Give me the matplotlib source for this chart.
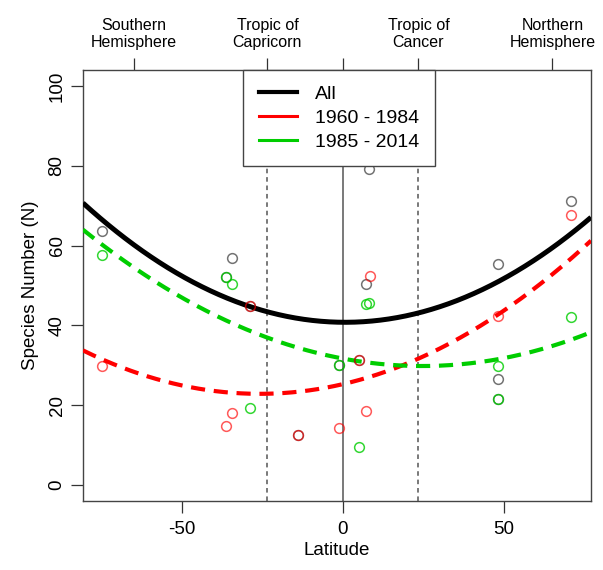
import numpy as np
import matplotlib
matplotlib.use('Agg')
import matplotlib.pyplot as plt
from matplotlib.lines import Line2D

plt.rcParams['font.family'] = ['Liberation Sans', 'DejaVu Sans']
plt.rcParams['axes.unicode_minus'] = False

# pontos (latitude, numero de especies)
lat_all = [-74.8, -34.4, -36.3, -28.9, -13.9, -1.1, 5.0, 7.1, 8.2, 48.2, 48.2, 48.2, 70.8]
n_all = [63.8, 57.0, 52.1, 44.9, 12.5, 30.0, 31.3, 50.3, 79.1, 55.3, 26.7, 21.6, 71.2]

lat_1960 = [-74.8, -28.9, -34.4, -36.3, -13.9, -1.1, 5.0, 7.1, 8.4, 48.2, 70.8]
n_1960 = [29.8, 44.9, 18.1, 14.8, 12.5, 14.3, 31.3, 18.5, 52.4, 42.4, 67.6]

lat_1985 = [-74.8, -36.3, -34.4, -28.9, -1.1, 4.9, 7.1, 8.2, 48.2, 48.2, 70.8]
n_1985 = [57.6, 52.1, 50.5, 19.3, 30.0, 9.5, 45.4, 45.7, 29.8, 21.6, 42.2]

# ajustes quadraticos (c, b, a) para np.polyval
fit_all = [0.004515, -0.0061, 40.8]
fit_1960 = [0.003625, 0.1878, 25.3]
fit_1985 = [0.003082, -0.1516, 31.7]

tropicos = [-23.44, 23.44]
top_ticks = [-65, -23.44, 0, 23.44, 65]
top_labels = ['Southern\nHemisphere', 'Tropic of\nCapricorn', '', 'Tropic of\nCancer', 'Northern\nHemisphere']

legend_labels = ['All', '1960 - 1984', '1985 - 2014']

xlim = (-80.7, 77.0)
ylim = (-4, 104)

fig = plt.figure(figsize=(6.03, 5.70), dpi=100)
ax = fig.add_axes([0.1376, 0.121, 0.8425, 0.756])

# linhas de referencia
ax.axvline(0, color='#555555', lw=1.1, zorder=1)
for t in tropicos:
    ax.axvline(t, color='#555555', lw=1.1, ls=(0, (3, 2.5)), zorder=1)

# curvas ajustadas
xs = np.linspace(xlim[0], xlim[1], 300)
ax.plot(xs, np.polyval(fit_all, xs), color='black', lw=3.6, solid_capstyle='butt', zorder=3)
ax.plot(xs, np.polyval(fit_1960, xs), color='#ff0000', lw=3.0, dashes=(3.4, 2.1),
        dash_capstyle='butt', zorder=3)
ax.plot(xs, np.polyval(fit_1985, xs), color='#00cd00', lw=3.0, dashes=(3.4, 2.1),
        dash_capstyle='butt', zorder=3)

# pontos
ax.plot(lat_all, n_all, 'o', mfc='none', mec='black', alpha=0.55, ms=7, mew=1.1, zorder=4)
ax.plot(lat_1960, n_1960, 'o', mfc='none', mec='#ff0000', alpha=0.65, ms=7, mew=1.1, zorder=5)
ax.plot(lat_1985, n_1985, 'o', mfc='none', mec='#00cd00', alpha=0.8, ms=7, mew=1.1, zorder=6)

ax.set_xlim(xlim)
ax.set_ylim(ylim)

ax.set_xticks([-50, 0, 50])
ax.set_yticks([0, 20, 40, 60, 80, 100])
ax.set_yticklabels(['0', '20', '40', '60', '80', '100'], rotation=90, va='center')
ax.tick_params(axis='both', length=8.5, width=0.9, labelsize=13.5, pad=4, color='#333333')
ax.tick_params(axis='x', pad=6)

ax.set_xlabel('Latitude', fontsize=13.5, labelpad=3)
ax.set_ylabel('Species Number (N)', fontsize=13.5, labelpad=7)

for s in ax.spines.values():
    s.set_color('#444444')
    s.set_linewidth(1.0)

# eixo de cima com hemisferios e tropicos
sec = ax.secondary_xaxis('top')
sec.set_xticks(top_ticks)
sec.set_xticklabels(top_labels, fontsize=11.5, linespacing=1.15)
sec.tick_params(length=8.5, width=0.9, pad=6, color='#333333')
sec.spines['top'].set_visible(False)

handles = [Line2D([], [], color='black', lw=3.0),
           Line2D([], [], color='#ff0000', lw=2.2),
           Line2D([], [], color='#00cd00', lw=2.2)]
leg = ax.legend(handles, legend_labels, loc='upper left', bbox_to_anchor=(0.315, 1.0),
                borderaxespad=0, fontsize=14, handlelength=2.0, handletextpad=0.9,
                labelspacing=0.32, borderpad=0.8, fancybox=False, framealpha=1)
leg.get_frame().set_edgecolor('#444444')
leg.get_frame().set_linewidth(1.0)
leg.set_zorder(10)

plt.savefig('out.png', dpi=100)
plt.close('all')
